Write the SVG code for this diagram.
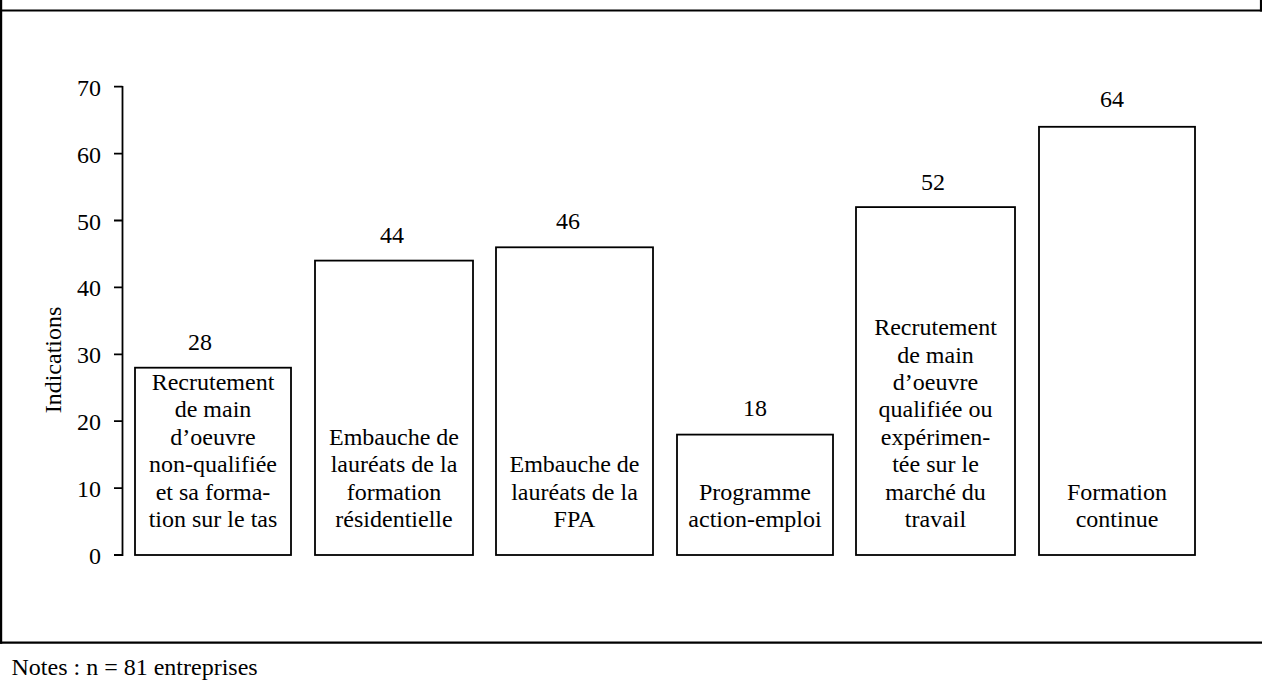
<svg xmlns="http://www.w3.org/2000/svg" width="1262" height="682" viewBox="0 0 1262 682">
<style>
text{font-family:"Liberation Serif","Times New Roman",serif;font-size:24px;fill:#000}
.c{text-anchor:middle}
.r{text-anchor:end}
.bar{fill:#fff;stroke:#000;stroke-width:1.8}
.frame{stroke:#000;stroke-width:2.2;fill:none}
.axis{stroke:#000;stroke-width:1.8;fill:none}
</style>
<rect width="1262" height="682" fill="#fff"/>
<g id="frame">
<line class="frame" x1="0" y1="10.5" x2="1262" y2="10.5"/>
<line class="frame" x1="0" y1="642.7" x2="1262" y2="642.7"/>
<line class="frame" x1="1.1" y1="0" x2="1.1" y2="643.8"/>
<line class="frame" x1="1261" y1="0" x2="1261" y2="11.5"/>
</g>
<g id="axis">
<line class="axis" x1="122.5" y1="86" x2="122.5" y2="555.9"/>
<path class="axis" d="M114 86.7H122.5M114 153.6H122.5M114 220.5H122.5M114 287.4H122.5M114 354.3H122.5M114 421.2H122.5M114 488.1H122.5M114 555H122.5"/>
<text class="r" x="101" y="95.7">70</text>
<text class="r" x="101" y="162.6">60</text>
<text class="r" x="101" y="229.5">50</text>
<text class="r" x="101" y="296.4">40</text>
<text class="r" x="101" y="363.3">30</text>
<text class="r" x="101" y="430.2">20</text>
<text class="r" x="101" y="497.1">10</text>
<text class="r" x="101" y="564">0</text>
<text class="c" transform="translate(61,360) rotate(-90)">Indications</text>
</g>
<g id="bar1">
<rect class="bar" x="135" y="367.7" width="156" height="187.3"/>
<text class="c" x="200" y="350">28</text>
<text class="c" x="213"><tspan x="213" y="390">Recrutement</tspan><tspan x="213" y="417.4">de main</tspan><tspan x="213" y="444.8">d’oeuvre</tspan><tspan x="213" y="472.2">non-qualifiée</tspan><tspan x="213" y="499.6">et sa forma-</tspan><tspan x="213" y="527">tion sur le tas</tspan></text>
</g>
<g id="bar2">
<rect class="bar" x="315" y="260.6" width="158" height="294.4"/>
<text class="c" x="392" y="242.6">44</text>
<text class="c"><tspan x="394" y="444.8">Embauche de</tspan><tspan x="394" y="472.2">lauréats de la</tspan><tspan x="394" y="499.6">formation</tspan><tspan x="394" y="527">résidentielle</tspan></text>
</g>
<g id="bar3">
<rect class="bar" x="496" y="247.3" width="157" height="307.7"/>
<text class="c" x="568" y="229.3">46</text>
<text class="c"><tspan x="574.5" y="472.2">Embauche de</tspan><tspan x="574.5" y="499.6">lauréats de la</tspan><tspan x="574.5" y="527">FPA</tspan></text>
</g>
<g id="bar4">
<rect class="bar" x="677" y="434.6" width="156" height="120.4"/>
<text class="c" x="755" y="415.6">18</text>
<text class="c"><tspan x="755" y="499.6">Programme</tspan><tspan x="755" y="527">action-emploi</tspan></text>
</g>
<g id="bar5">
<rect class="bar" x="856" y="207.1" width="159" height="347.9"/>
<text class="c" x="933" y="189.6">52</text>
<text class="c"><tspan x="935.5" y="335.2">Recrutement</tspan><tspan x="935.5" y="362.6">de main</tspan><tspan x="935.5" y="390">d’oeuvre</tspan><tspan x="935.5" y="417.4">qualifiée ou</tspan><tspan x="935.5" y="444.8">expérimen-</tspan><tspan x="935.5" y="472.2">tée sur le</tspan><tspan x="935.5" y="499.6">marché du</tspan><tspan x="935.5" y="527">travail</tspan></text>
</g>
<g id="bar6">
<rect class="bar" x="1039" y="126.8" width="156" height="428.2"/>
<text class="c" x="1112" y="107.3">64</text>
<text class="c"><tspan x="1117" y="499.6">Formation</tspan><tspan x="1117" y="527">continue</tspan></text>
</g>
<g id="connectors"></g>
<text x="11.5" y="675">Notes : n = 81 entreprises</text>
</svg>
